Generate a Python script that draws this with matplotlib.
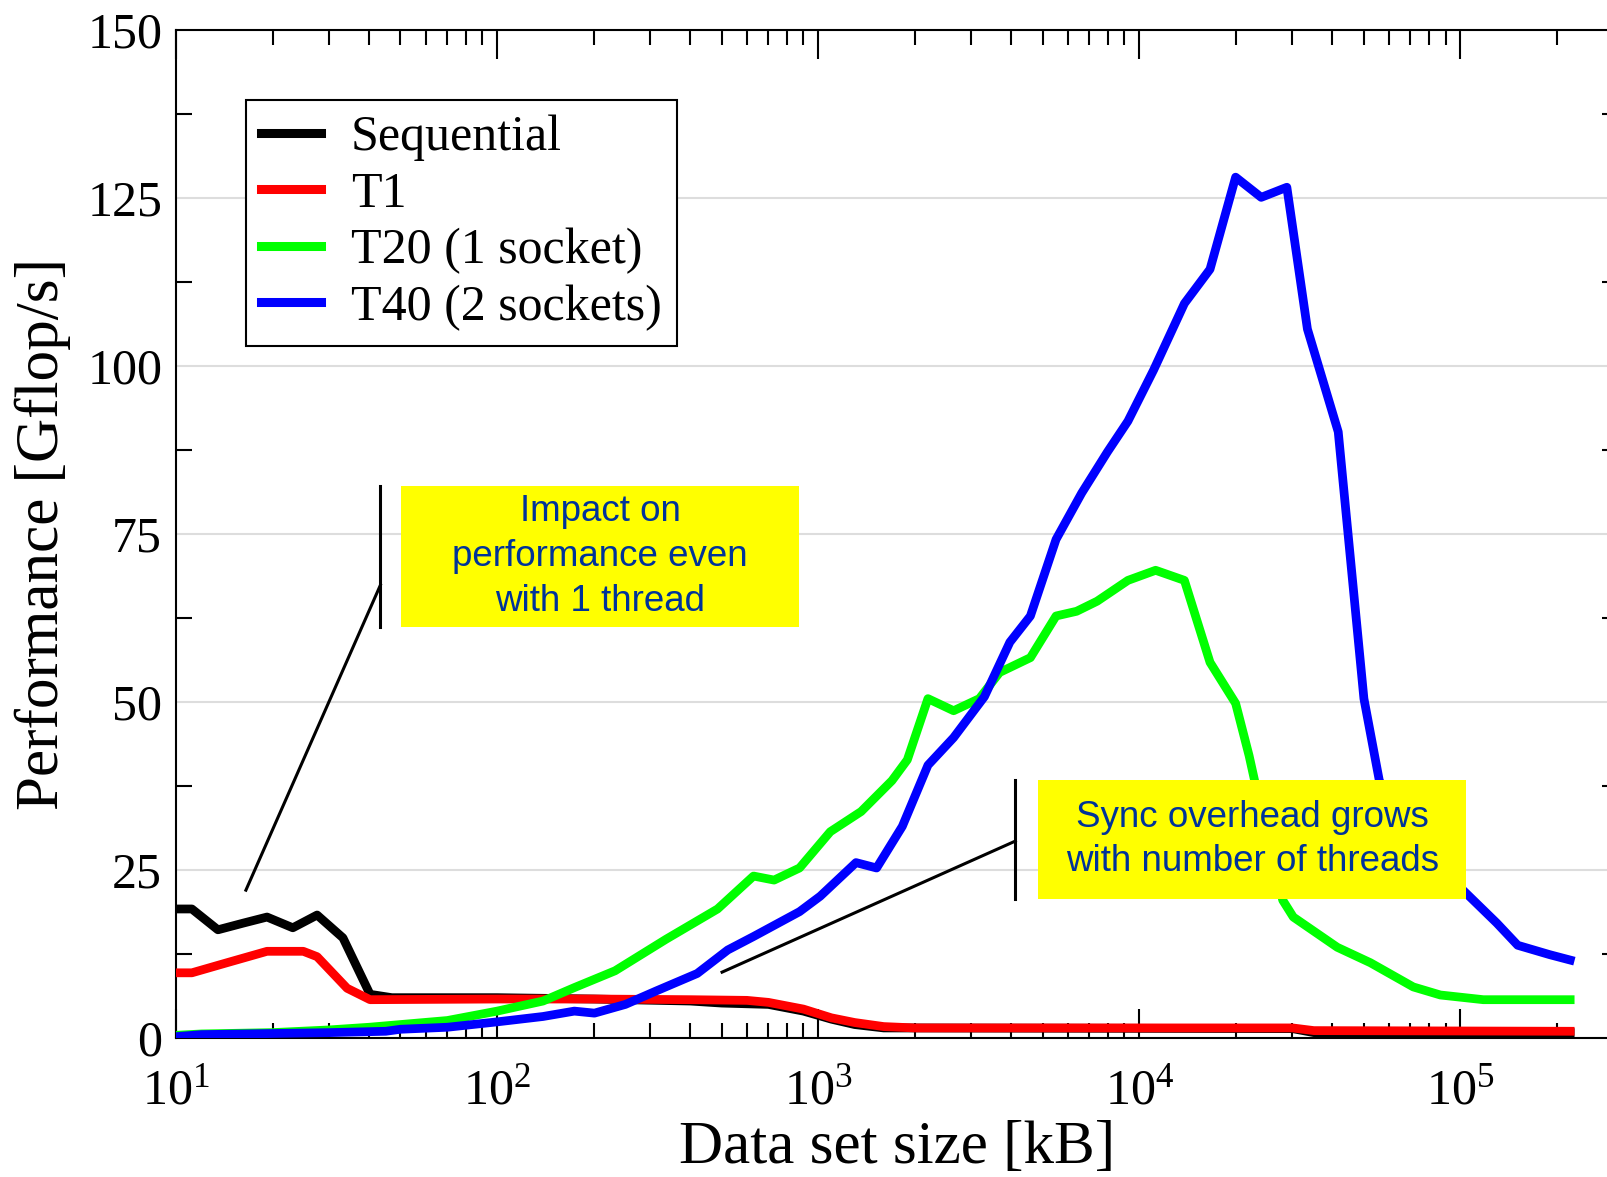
import numpy as np
import matplotlib.pyplot as plt
from matplotlib.patches import Rectangle
from matplotlib.ticker import LogLocator, MultipleLocator, LogFormatterMathtext

plt.rcParams['font.family'] = ['Liberation Serif', 'DejaVu Serif']
plt.rcParams['mathtext.fontset'] = 'custom'
plt.rcParams['mathtext.rm'] = 'Liberation Serif'

# data set size [kB] / performance [Gflop/s]
seq_x = [10, 11.2, 13.5, 16.2, 19.2, 23.1, 27.5, 33.1, 40.2, 47, 100, 200, 400,
         500, 700, 900, 1100, 1300, 1600, 30000, 35000, 220000]
seq_y = [19.2, 19.2, 16.1, 17.1, 18.0, 16.4, 18.3, 14.9, 6.5, 6.0, 6.0, 5.8, 5.5,
         5.2, 5.0, 4.0, 2.8, 2.0, 1.5, 1.4, 0.8, 0.8]

t1_x = [10, 11.2, 14.4, 19.2, 24.9, 27.5, 34.1, 40.2, 100, 200, 400, 600, 700,
        900, 1100, 1300, 1600, 2000, 30000, 35000, 220000]
t1_y = [9.7, 9.7, 11.2, 12.9, 12.9, 12.1, 7.4, 5.7, 5.8, 5.8, 5.7, 5.6, 5.3,
        4.3, 3.0, 2.3, 1.7, 1.5, 1.5, 1.1, 1.0]

t20_x = [10, 12, 20, 30, 40, 50, 70, 100, 139, 174, 233, 336, 486, 629, 729, 875,
         1091, 1361, 1698, 1896, 2198, 2642, 3177, 3675, 4583, 5509, 6384, 7396,
         9226, 11250, 13830, 16620, 19970, 22000, 25000, 28000, 30200, 41400,
         52500, 71400, 86700, 118000, 220000]
t20_y = [0.4, 0.6, 0.8, 1.2, 1.6, 2.0, 2.6, 4.0, 5.5, 7.5, 10.0, 14.7, 19.2, 24.1,
         23.5, 25.3, 30.7, 33.7, 38.3, 41.4, 50.5, 48.7, 50.5, 54.4, 56.6, 62.8,
         63.5, 65.0, 68.1, 69.6, 68.1, 55.9, 49.8, 42.0, 30.0, 20.5, 18.0, 13.5,
         11.2, 7.6, 6.4, 5.7, 5.7]

t40_x = [10, 12, 30, 45, 50, 70, 100, 139, 174, 201, 251, 313, 420, 523, 629, 875,
         1015, 1312, 1521, 1829, 2198, 2642, 3296, 3955, 4583, 5509, 6622, 7960,
         9226, 11090, 13830, 16620, 19970, 23990, 28840, 33420, 41690, 50120,
         55980, 70000, 85000, 102000, 130000, 151000, 190000, 220000]
t40_y = [0.2, 0.5, 0.8, 1.0, 1.3, 1.6, 2.4, 3.2, 4.0, 3.7, 5.0, 7.0, 9.6, 13.1,
         15.1, 18.8, 21.1, 26.1, 25.3, 31.5, 40.6, 44.7, 50.8, 58.9, 62.8, 74.2,
         81.1, 87.2, 91.8, 99.4, 109.3, 114.4, 128.1, 125.1, 126.6, 105.5, 90.2,
         50.5, 38.3, 30.0, 25.0, 22.0, 17.1, 13.8, 12.4, 11.6]

series = [
    (seq_x, seq_y, 'black', 'Sequential'),
    (t1_x, t1_y, '#ff0000', 'T1'),
    (t20_x, t20_y, '#00ff00', 'T20 (1 socket)'),
    (t40_x, t40_y, '#0000ff', 'T40 (2 sockets)'),
]

fig = plt.figure(figsize=(16.08, 11.77), dpi=100)
ax = fig.add_axes([0.1095, 0.1181, 0.8967, 0.8564])

for x, y, c, lab in series:
    ax.plot(x, y, color=c, lw=6.3, label=lab, zorder=3)

ax.set_xscale('log')
ax.set_xlim(10, 3.1e5)
ax.set_ylim(0, 150)

ax.xaxis.set_major_locator(LogLocator(base=10))
ax.xaxis.set_minor_locator(LogLocator(base=10, subs=np.arange(2, 10)))
ax.xaxis.set_major_formatter(LogFormatterMathtext())
ax.yaxis.set_major_locator(MultipleLocator(25))
ax.yaxis.set_minor_locator(MultipleLocator(25, offset=12.5))

ax.tick_params(which='both', direction='in', top=True, right=True,
               labelsize=36, width=1.5, color='black')
ax.tick_params(axis='x', which='major', length=21, pad=22)
ax.tick_params(axis='x', which='minor', length=11)
ax.tick_params(axis='y', which='major', length=0, pad=10)
ax.tick_params(axis='y', which='minor', length=11.5)

for s in ax.spines.values():
    s.set_linewidth(1.5)

ax.yaxis.grid(True, which='major', color='#dddddd', lw=1.5, zorder=0)
ax.set_axisbelow(True)

ax.set_xlabel('Data set size [kB]', fontsize=44, labelpad=4)
ax.set_ylabel('Performance [Gflop/s]', fontsize=44, labelpad=12)

leg = ax.legend(loc='upper left', bbox_to_anchor=(0.0485, 0.9306), borderaxespad=0,
                fontsize=36, frameon=True, fancybox=False, framealpha=1,
                edgecolor='black', borderpad=0.3, handlelength=1.2,
                handletextpad=0.6, labelspacing=0.2)
leg.get_frame().set_linewidth(1.5)
for h in leg.get_lines():
    h.set_linewidth(6.5)

# callout boxes
note_color = '#003399'
boxes = [
    # (x0, x1, y0, y1, text, stem x, stem y, tip x, tip y)
    (50.2, 873, 61.2, 82.1, 'Impact on\nperformance even\nwith 1 thread', 43.3, 67.4, 16.5, 22.0),
    (4842, 104500, 20.7, 38.4, 'Sync overhead grows\nwith number of threads', 4112, 29.3, 502, 9.8),
]
for x0, x1, y0, y1, txt, sx, sy, tx, ty in boxes:
    ax.add_patch(Rectangle((x0, y0), x1 - x0, y1 - y0, facecolor='#ffff00',
                           edgecolor='none', zorder=5))
    xm = np.sqrt(x0 * x1)
    ax.text(xm, (y0 + y1) / 2, txt, ha='center', va='center', fontsize=26.5,
            color=note_color, family=['Liberation Sans', 'DejaVu Sans'],
            linespacing=1.36, zorder=6)
    ax.plot([sx, sx], [y0, y1], color='black', lw=2.2, zorder=6)
    ax.plot([sx, tx], [sy, ty], color='black', lw=2.2, zorder=6)

fig.savefig('out.png', dpi=100)
